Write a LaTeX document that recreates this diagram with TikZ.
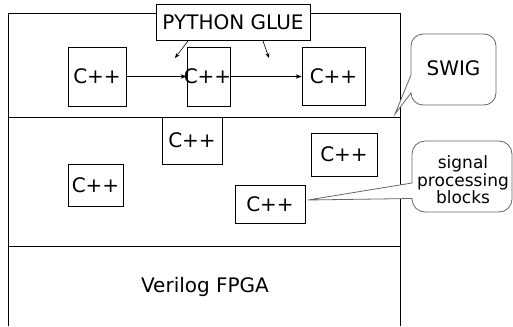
\documentclass[tikz,border=0pt]{standalone}
\usepackage{fontspec}
\setmainfont{DejaVu Sans}
\usetikzlibrary{arrows.meta}
\begin{document}
\begin{tikzpicture}[x=1pt,y=-1pt,
  every node/.style={font=\fontsize{20}{22}\selectfont, inner sep=0pt},
  box/.style={draw, line width=0.8pt, fill=white},
  conn/.style={line width=0.8pt, -{Stealth[length=6pt,width=4.5pt]}},
  frame/.style={line width=0.9pt},
  bubble/.style={draw=black!60, line width=0.8pt, fill=white}]
\useasboundingbox (0,0) rectangle (513,326);
% layers
\draw[frame] (8,326) -- (8,13) -- (400,13) -- (400,326);
\draw[frame] (8,117) -- (400,117);
\draw[frame] (8,246) -- (400,246);
% python glue
\node[box, minimum width=154pt, minimum height=36pt] (glue) at (233,22) {PYTHON GLUE};
% top row
\node[box, minimum width=58pt, minimum height=59pt] (t1) at (97,76.5) {C++};
\node[box, minimum width=43pt, minimum height=59pt] (t2) at (208.5,76.5) {};
\node (t2t) at (207.5,76.5) {C++};
\node[box, minimum width=63pt, minimum height=58pt] (t3) at (333.5,76.5) {C++};
\draw[conn] (t1.east) -- (t2.west);
\draw[conn] (t2.east) -- (t3.west);
\coordinate (g1s) at (188,41);
\coordinate (g1e) at (175,58);
\coordinate (g2s) at (263,41);
\coordinate (g2e) at (269,58);
\draw[line width=0.6pt, -{Stealth[length=5pt,width=4pt]}] (g1s) -- (g1e);
\draw[line width=0.6pt, -{Stealth[length=5pt,width=4pt]}] (g2s) -- (g2e);
% middle row
\node[box, minimum width=60pt, minimum height=47pt] (m1) at (192,140.5) {C++};
\node[box, minimum width=55pt, minimum height=42pt] (m2) at (95.5,185) {C++};
\node[box, minimum width=66pt, minimum height=43pt] (m3) at (344,154.5) {C++};
\node[box, minimum width=70pt, minimum height=38pt] (m4) at (270,204) {C++};
% bottom
\node (fpga) at (205,287) {Verilog FPGA};
% SWIG callout
\draw[bubble] (411,60) [rounded corners=12pt] -- (411,34) -- (496,34) -- (496,105) -- (411,105) [sharp corners] -- (411,93) -- (395,114) -- (411,75) -- cycle;
\node (swig) at (453.5,68) {SWIG};
% signal processing callout
\draw[bubble] (412,165) [rounded corners=13pt] -- (412,141) -- (512,141) -- (512,212) -- (412,212) [sharp corners] -- (412,198.5) -- (308,200) -- (412,183) -- cycle;
\node[font=\fontsize{17}{17.5}\selectfont, align=center] (sig) at (463,180) {signal\\processing\\blocks};
\end{tikzpicture}
\end{document}
